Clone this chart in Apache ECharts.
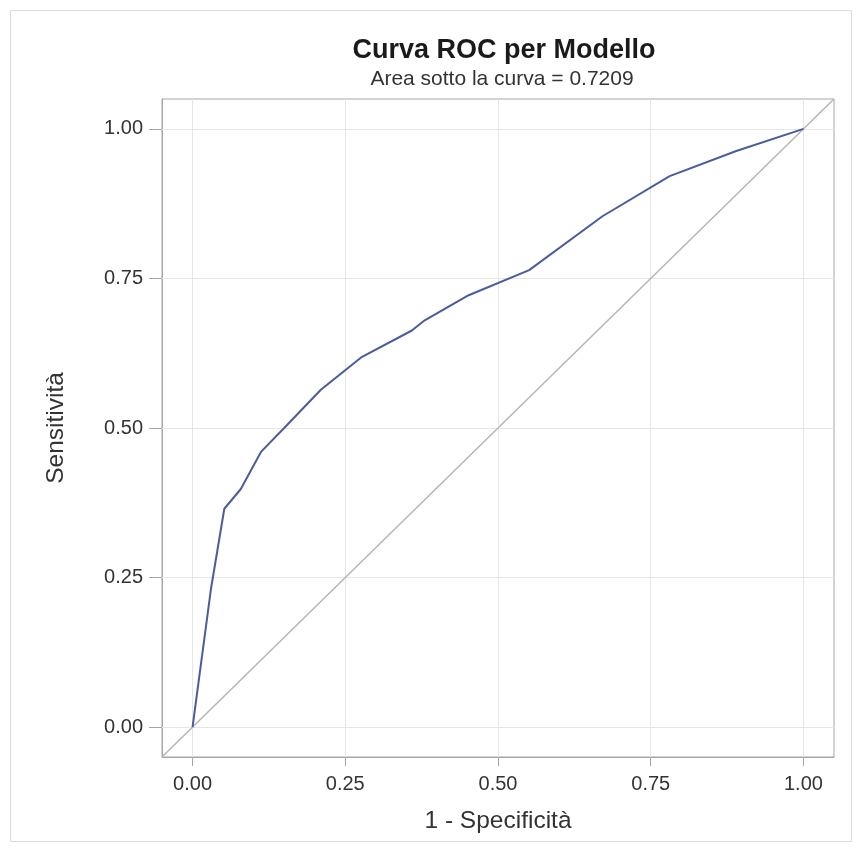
<!DOCTYPE html>
<html>
<head>
<meta charset="utf-8">
<script src="https://cdn.jsdelivr.net/npm/echarts@6/dist/echarts.min.js"></script>
<style>
  html, body { margin: 0; padding: 0; background: #fff; }
  #chart { width: 862px; height: 852px; }
</style>
</head>
<body>
<div id="chart"></div>
<script>
// ROC curve: false positive rate (1 - specificity) vs. true positive rate
const fpr = [0, 0.030, 0.052, 0.079, 0.112, 0.150, 0.210, 0.276, 0.359, 0.380, 0.452, 0.551, 0.671, 0.781, 0.890, 1];
const tpr = [0, 0.230, 0.365, 0.398, 0.460, 0.500, 0.564, 0.618, 0.663, 0.680, 0.722, 0.764, 0.854, 0.921, 0.963, 1];

// Chance line end points
const chanceX = [-0.05, 1.05];
const chanceY = [-0.05, 1.05];

// Tick positions shared by both axes
const ticks = [0, 0.25, 0.5, 0.75, 1];

const titleText = 'Curva ROC per Modello';
const subtitleText = 'Area sotto la curva = 0.7209';
const xName = '1 - Specificità';
const yName = 'Sensitività';

const font = '"Liberation Sans", Arial, sans-serif';
const frameColor = '#a6a6a6';
const chart = echarts.init(document.getElementById('chart'), null, { renderer: 'canvas' });

function axis(extra) {
  return Object.assign({
    type: 'value',
    min: -0.05,
    max: 1.05,
    axisLine: { show: true, onZero: false, lineStyle: { color: frameColor, width: 1 } },
    splitLine: { show: false },
    nameLocation: 'middle',
    nameTextStyle: { color: '#333', fontSize: 24.5, fontFamily: font }
  }, extra);
}

function tickStyle(len) {
  return { show: true, inside: false, length: len, customValues: ticks, lineStyle: { color: frameColor, width: 1 } };
}

function labelStyle(margin) {
  return { customValues: ticks, formatter: v => v.toFixed(2), color: '#333', fontSize: 20, fontFamily: font, margin: margin };
}

chart.setOption({
  animation: false,
  backgroundColor: '#fff',
  title: [
    {
      text: titleText,
      left: 499, top: 32, textAlign: 'center',
      textStyle: { fontSize: 27, fontWeight: 'bold', color: '#1a1a1a', fontFamily: font }
    },
    {
      text: subtitleText,
      left: 497, top: 64, textAlign: 'center',
      textStyle: { fontSize: 21, fontWeight: 'normal', color: '#333', fontFamily: font }
    }
  ],
  graphic: [
    {
      type: 'rect',
      shape: { x: 10.5, y: 10.5, width: 841, height: 831 },
      style: { fill: 'none', stroke: '#dcdcdc', lineWidth: 1 },
      silent: true
    }
  ],
  grid: {
    left: 162, right: 28, top: 99, bottom: 95,
    show: true, borderColor: frameColor, borderWidth: 1, backgroundColor: 'transparent'
  },
  xAxis: axis({
    name: xName, nameGap: 52,
    axisTick: tickStyle(9),
    axisLabel: labelStyle(17)
  }),
  yAxis: axis({
    name: yName, nameGap: 93, nameRotate: 90,
    axisTick: tickStyle(13),
    axisLabel: labelStyle(19)
  }),
  series: [
    {
      // reference grid lines
      type: 'line',
      data: [],
      silent: true,
      z: 1,
      markLine: {
        z: 1,
        silent: true,
        symbol: ['none', 'none'],
        label: { show: false },
        emphasis: { disabled: true },
        lineStyle: { color: '#e6e6e6', type: 'solid', width: 1 },
        data: ticks.map(v => ({ xAxis: v })).concat(ticks.map(v => ({ yAxis: v })))
      }
    },
    {
      type: 'line',
      data: chanceX.map((x, i) => [x, chanceY[i]]),
      showSymbol: false,
      silent: true,
      z: 3,
      lineStyle: { color: '#b5b5b5', width: 1.5 }
    },
    {
      type: 'line',
      data: fpr.map((x, i) => [x, tpr[i]]),
      showSymbol: false,
      z: 4,
      lineStyle: { color: '#4a5c9c', width: 2 }
    }
  ]
});
</script>
</body>
</html>
